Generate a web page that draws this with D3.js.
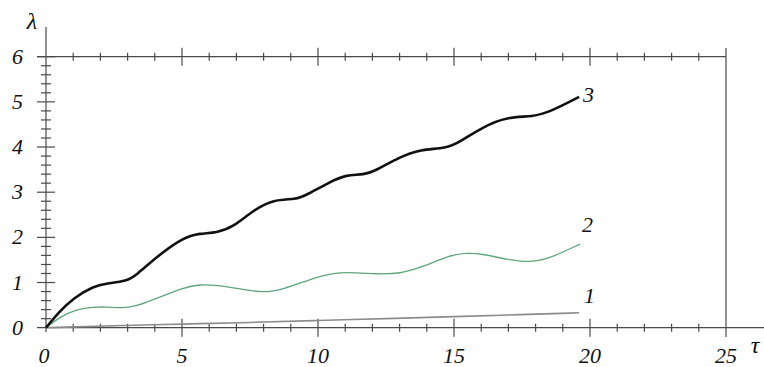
<!DOCTYPE html>
<html>
<head>
<meta charset="utf-8">
<script src="https://cdn.jsdelivr.net/npm/d3@7"></script>
<style>
  body { margin: 0; background: #fff; }
</style>
</head>
<body>
<div class="canvas"></div>
<script>
// data
const tau3 = [0, 0.5, 1.0, 1.74, 2.23, 2.97, 3.33, 4.07, 5.05, 5.66, 6.27, 6.89, 7.62, 8.36, 9.2, 9.58, 10.44, 11.05, 11.67, 12.16, 13.01, 13.75, 14.73, 15.22, 16.08, 16.94, 17.92, 18.53, 19.6];
const lam3 = [0, 0.36, 0.65, 0.92, 0.98, 1.03, 1.17, 1.57, 2.0, 2.09, 2.1, 2.23, 2.6, 2.84, 2.84, 2.94, 3.23, 3.39, 3.38, 3.49, 3.78, 3.95, 3.97, 4.12, 4.45, 4.67, 4.67, 4.78, 5.11];

const tau2 = [0, 0.51, 1.13, 1.74, 2.23, 2.84, 3.33, 4.07, 5.05, 5.66, 6.27, 7.13, 7.99, 8.72, 9.71, 10.56, 11.42, 12.16, 13.01, 13.87, 14.85, 15.47, 16.08, 16.94, 17.72, 18.4, 19.63];
const lam2 = [0, 0.24, 0.41, 0.46, 0.46, 0.43, 0.48, 0.65, 0.89, 0.96, 0.94, 0.86, 0.77, 0.85, 1.07, 1.22, 1.22, 1.19, 1.19, 1.35, 1.61, 1.66, 1.63, 1.51, 1.45, 1.5, 1.85];

const tau1 = [0, 2.5, 5, 7.5, 10, 12.5, 15, 17.5, 19.6];
const lam1 = [0, 0.045, 0.08, 0.115, 0.16, 0.2, 0.245, 0.29, 0.33];

const xTicks = [0, 5, 10, 15, 20, 25];
const yTicks = [0, 1, 2, 3, 4, 5, 6];

const width = 764;
const height = 367;

const svg = d3.select('.canvas')
  .append('svg')
  .attr('width', width)
  .attr('height', height)
  .attr('font-family', 'Liberation Serif')
  .attr('font-style', 'italic');

const x = d3.scaleLinear().domain([0, 25]).range([46, 726]);
const y = d3.scaleLinear().domain([0, 6]).range([327.7, 56.7]);

const axisColor = '#4a4a4a';

// frame lines
svg.append('line').attr('x1', x(0)).attr('x2', x(0)).attr('y1', 27).attr('y2', 332)
  .attr('stroke', axisColor).attr('stroke-width', 1.2);
svg.append('line').attr('x1', 37).attr('x2', 764).attr('y1', y(0)).attr('y2', y(0))
  .attr('stroke', axisColor).attr('stroke-width', 1.2);
svg.append('line').attr('x1', 37).attr('x2', x(25)).attr('y1', y(6)).attr('y2', y(6))
  .attr('stroke', axisColor).attr('stroke-width', 1.2);
svg.append('line').attr('x1', x(25)).attr('x2', x(25)).attr('y1', 48).attr('y2', 337)
  .attr('stroke', axisColor).attr('stroke-width', 1.2);

// ticks on bottom and top
const xt = d3.range(1, 25);
[y(0), y(6)].forEach(yy => {
  svg.append('g').selectAll('line')
    .data(xt)
    .enter().append('line')
    .attr('x1', d => x(d)).attr('x2', d => x(d))
    .attr('y1', d => yy - (d % 5 === 0 ? 9 : 4))
    .attr('y2', d => yy + (d % 5 === 0 ? 9 : 4))
    .attr('stroke', axisColor).attr('stroke-width', 1.2);
});

// ticks on left axis
const yt = d3.range(1, 31).map(i => i / 5);
svg.append('g').selectAll('line')
  .data(yt)
  .enter().append('line')
  .attr('x1', d => x(0) - (Math.abs(d - Math.round(d)) < 1e-6 ? 9 : 5))
  .attr('x2', d => x(0) + (Math.abs(d - Math.round(d)) < 1e-6 ? 9 : 5))
  .attr('y1', d => y(d)).attr('y2', d => y(d))
  .attr('stroke', axisColor).attr('stroke-width', 1.2);

// tick labels
svg.append('g').selectAll('text')
  .data(xTicks)
  .enter().append('text')
  .text(d => d)
  .attr('x', d => x(d) - (d === 0 ? 2 : 0))
  .attr('y', 363)
  .attr('text-anchor', 'middle')
  .attr('font-size', 22)
  .attr('fill', '#111');

svg.append('g').selectAll('text')
  .data(yTicks)
  .enter().append('text')
  .text(d => d)
  .attr('x', 17.5)
  .attr('y', d => y(d) + 7)
  .attr('text-anchor', 'middle')
  .attr('font-size', 22)
  .attr('fill', '#111');

svg.append('text').text('λ').attr('x', 32).attr('y', 29)
  .attr('text-anchor', 'middle').attr('font-size', 24).attr('fill', '#111');
svg.append('text').text('τ').attr('x', 755).attr('y', 353)
  .attr('text-anchor', 'middle').attr('font-size', 24).attr('fill', '#111');

// curves
const line = d3.line()
  .x(d => x(d[0]))
  .y(d => y(d[1]))
  .curve(d3.curveBasis);

const series = [
  { t: tau1, v: lam1, color: '#8c8c8c', w: 1.6, label: '1', lx: 584, ly: 303 },
  { t: tau2, v: lam2, color: '#5fa57c', w: 1.3, label: '2', lx: 582, ly: 232 },
  { t: tau3, v: lam3, color: '#111111', w: 2.6, label: '3', lx: 583, ly: 102 }
];

series.forEach(s => {
  svg.append('path')
    .datum(s.t.map((t, i) => [t, s.v[i]]))
    .attr('d', line)
    .attr('fill', 'none')
    .attr('stroke', s.color)
    .attr('stroke-width', s.w)
    .attr('stroke-linejoin', 'round');

  svg.append('text')
    .text(s.label)
    .attr('x', s.lx)
    .attr('y', s.ly)
    .attr('font-size', 22)
    .attr('fill', '#111');
});
</script>
</body>
</html>
